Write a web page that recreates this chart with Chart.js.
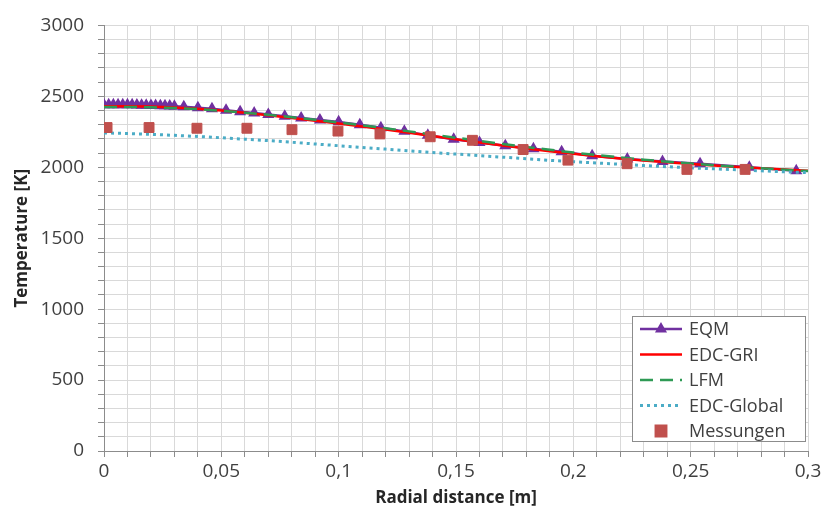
<!DOCTYPE html>
<html>
<head>
<meta charset="utf-8">
<script src="https://cdn.jsdelivr.net/npm/chart.js@4.4.1/dist/chart.umd.min.js"></script>
<style>
  html, body { margin: 0; padding: 0; background: #fff; }
  #chart { display: block; }
</style>
</head>
<body>
<canvas id="chart" width="825" height="522"></canvas>
<script>
// radial distance [m] / temperature [K]
var eqmX = [0, 0.002, 0.004, 0.006, 0.008, 0.010, 0.012, 0.014, 0.016, 0.018, 0.020, 0.022, 0.024, 0.026, 0.028, 0.030,
  0.034, 0.040, 0.046, 0.052, 0.058, 0.064, 0.070, 0.077, 0.084, 0.092, 0.100, 0.109, 0.118, 0.128, 0.138,
  0.149, 0.160, 0.171, 0.183, 0.195, 0.208, 0.223, 0.238, 0.254, 0.275, 0.295];
var eqmT = [2440, 2440, 2440, 2440, 2440, 2440, 2440, 2439, 2438, 2437, 2436, 2435, 2434, 2433, 2432, 2430,
  2427, 2420, 2413, 2402, 2392, 2382, 2372, 2360, 2348, 2334, 2320, 2300, 2278, 2253, 2225,
  2198, 2175, 2152, 2130, 2110, 2082, 2058, 2040, 2025, 2000, 1975];

var gridX = [0, 0.01, 0.02, 0.03, 0.04, 0.05, 0.06, 0.07, 0.08, 0.09, 0.10, 0.11, 0.12, 0.13, 0.14, 0.15,
  0.16, 0.17, 0.18, 0.19, 0.20, 0.21, 0.22, 0.23, 0.24, 0.25, 0.26, 0.27, 0.28, 0.29, 0.30];
var edcGriT = [2430, 2430, 2428, 2422, 2413, 2400, 2385, 2367, 2348, 2328, 2308, 2288, 2266, 2243, 2220, 2197,
  2175, 2153, 2132, 2113, 2095, 2078, 2062, 2048, 2035, 2023, 2012, 2002, 1993, 1984, 1976];
var lfmT = [2425, 2425, 2423, 2418, 2410, 2398, 2385, 2370, 2353, 2335, 2316, 2296, 2275, 2253, 2231, 2208,
  2186, 2164, 2143, 2123, 2104, 2086, 2069, 2053, 2039, 2026, 2014, 2003, 1993, 1983, 1973];
var edcGlobalT = [2242, 2238, 2232, 2225, 2217, 2208, 2198, 2188, 2176, 2164, 2152, 2140, 2128, 2116, 2104, 2093,
  2082, 2071, 2060, 2049, 2039, 2030, 2021, 2012, 2004, 1996, 1989, 1982, 1975, 1968, 1962];

var messX = [0.0013, 0.0192, 0.0396, 0.0609, 0.0801, 0.0997, 0.1176, 0.139, 0.157, 0.1786, 0.1977, 0.2229, 0.2484, 0.2732];
var messT = [2280, 2280, 2275, 2275, 2265, 2255, 2235, 2215, 2190, 2125, 2050, 2025, 1985, 1985];

var xTicks = ['0', '0,05', '0,1', '0,15', '0,2', '0,25', '0,3'];
var yTicks = ['0', '500', '1000', '1500', '2000', '2500', '3000'];

var textColor = '#404040';
var gridColor = '#d9d9d9';
var axisColor = '#8c8c8c';

Chart.defaults.font.family = "'Open Sans', sans-serif";
Chart.defaults.color = textColor;

function toPoints(xs, ys) {
  return xs.map(function(x, i) { return { x: x, y: ys[i] }; });
}

// legend box drawn inside the plot, like the spreadsheet original
var boxLegend = {
  id: 'boxLegend',
  afterDraw: function(chart) {
    var ctx = chart.ctx;
    var left = 632, top = 316, right = 805, bottom = 441;
    var rowH = 25.5;
    ctx.save();
    ctx.fillStyle = '#fff';
    ctx.fillRect(left, top, right - left, bottom - top);
    ctx.strokeStyle = '#8c8c8c';
    ctx.lineWidth = 1;
    ctx.strokeRect(left + 0.5, top + 0.5, right - left, bottom - top);
    ctx.font = "18px 'Open Sans', sans-serif";
    ctx.textBaseline = 'middle';
    chart.data.datasets.forEach(function(ds, i) {
      var y = top + 13 + i * rowH;
      var x0 = left + 8, x1 = left + 50, xm = (x0 + x1) / 2;
      if (ds.showLine !== false) {
        ctx.beginPath();
        ctx.strokeStyle = ds.borderColor;
        ctx.lineWidth = ds.borderWidth;
        ctx.setLineDash(ds.borderDash || []);
        ctx.moveTo(x0, y);
        ctx.lineTo(x1, y);
        ctx.stroke();
        ctx.setLineDash([]);
      }
      if (ds.pointRadius > 0) {
        ctx.strokeStyle = ds.pointBorderColor;
        ctx.fillStyle = ds.pointBackgroundColor;
        Chart.helpers.drawPoint(ctx, {
          pointStyle: ds.pointStyle,
          radius: ds.pointRadius,
          borderWidth: 1
        }, xm, y);
      }
      ctx.fillStyle = textColor;
      ctx.fillText(ds.label, left + 57, y + 1);
    });
    ctx.restore();
  }
};

var ctx = document.getElementById('chart').getContext('2d');
var chart = new Chart(ctx, {
  type: 'scatter',
  data: {
    datasets: [
      {
        label: 'EQM', data: toPoints(eqmX, eqmT), showLine: true,
        borderColor: '#7030a0', borderWidth: 2.5,
        pointStyle: 'triangle', pointRadius: 4.5,
        pointBackgroundColor: '#7030a0', pointBorderColor: '#7030a0', order: 5
      },
      {
        label: 'EDC-GRI', data: toPoints(gridX, edcGriT), showLine: true,
        borderColor: '#ff0000', borderWidth: 2.5, pointRadius: 0, order: 4
      },
      {
        label: 'LFM', data: toPoints(gridX, lfmT), showLine: true,
        borderColor: '#2e9a55', borderWidth: 2.5, borderDash: [13, 7], pointRadius: 0, order: 3
      },
      {
        label: 'EDC-Global', data: toPoints(gridX, edcGlobalT), showLine: true,
        borderColor: '#4bacc6', borderWidth: 3, borderDash: [3, 4], pointRadius: 0, order: 2
      },
      {
        label: 'Messungen', data: toPoints(messX, messT), showLine: false,
        borderColor: '#c0504d', pointStyle: 'rect', pointRadius: 7,
        pointBackgroundColor: '#c0504d', pointBorderColor: '#c0504d', order: 1
      }
    ]
  },
  options: {
    responsive: false,
    animation: false,
    layout: { padding: { top: 24, right: 17, left: 0, bottom: 0 } },
    plugins: {
      legend: { display: false },
      tooltip: { enabled: false }
    },
    scales: {
      x: {
        type: 'linear', min: 0, max: 0.3,
        afterFit: function(scale) { scale.height = 71; },
        grid: { color: gridColor, tickColor: axisColor, tickLength: 6 },
        border: { color: axisColor },
        ticks: {
          stepSize: 0.01, autoSkip: false, maxRotation: 0, padding: 3,
          font: { size: 19 },
          callback: function(v) {
            var k = Math.round(v * 100);
            return k % 5 === 0 ? xTicks[k / 5] : '';
          }
        },
        title: {
          display: true, text: 'Radial distance [m]',
          font: { size: 17, weight: 'bold' }, color: '#262626',
          padding: { top: 0, bottom: 14 }
        }
      },
      y: {
        min: 0, max: 3000,
        afterFit: function(scale) { scale.width = 104; },
        grid: { color: gridColor, tickColor: axisColor, tickLength: 6 },
        border: { color: axisColor },
        ticks: {
          stepSize: 100, autoSkip: false, padding: 14,
          font: { size: 19 },
          callback: function(v) {
            return v % 500 === 0 ? yTicks[v / 500] : '';
          }
        },
        title: {
          display: true, text: 'Temperature [K]',
          font: { size: 17, weight: 'bold' }, color: '#262626',
          padding: { top: 12, bottom: 0 }
        }
      }
    }
  },
  plugins: [boxLegend]
});
</script>
</body>
</html>
